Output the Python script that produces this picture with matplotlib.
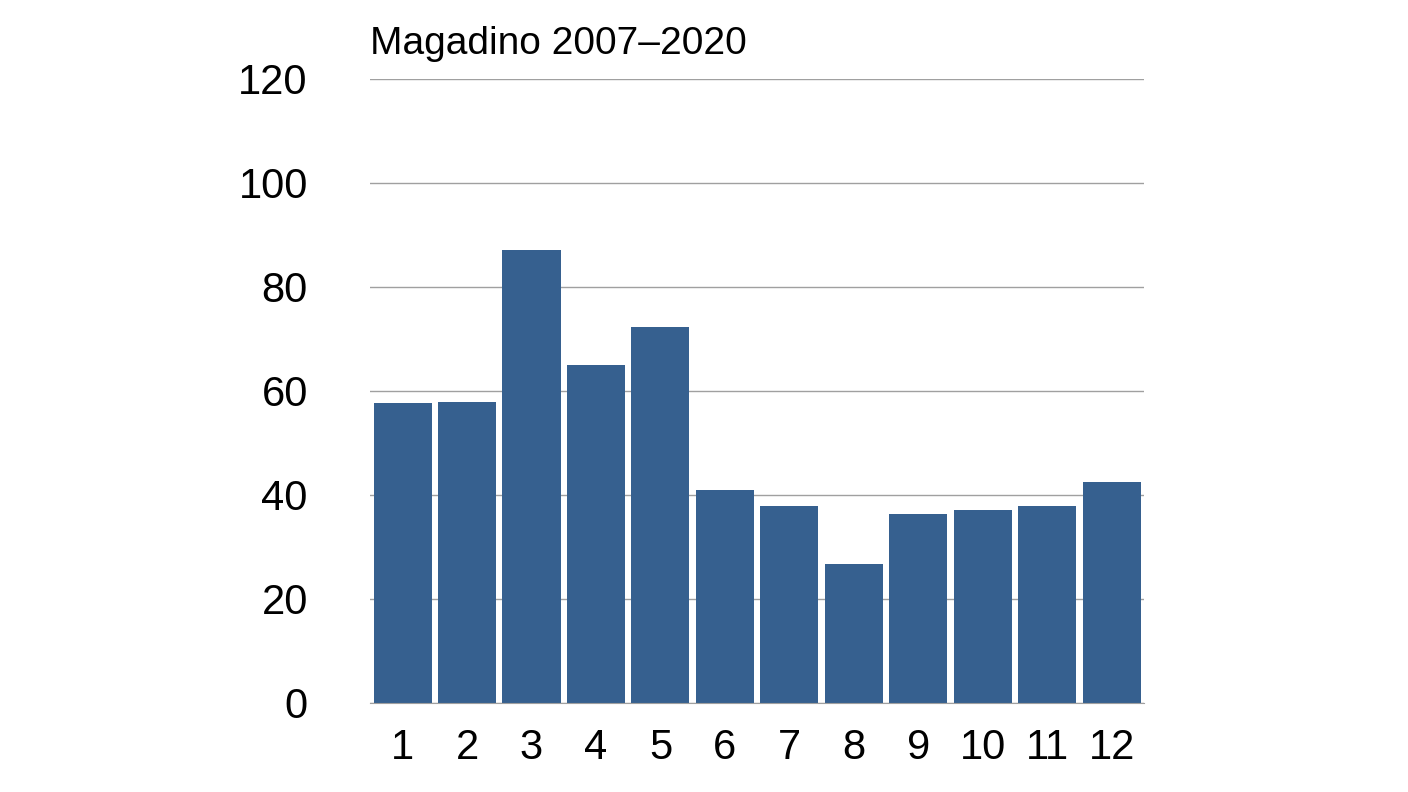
import matplotlib.pyplot as plt

months = list(range(1, 13))
values = [57.7, 57.9, 87.1, 65.0, 72.3, 41.0, 37.9, 26.7, 36.3, 37.1, 37.9, 42.5]
yticks = [0, 20, 40, 60, 80, 100, 120]

plt.rcParams['font.family'] = ['Liberation Sans', 'DejaVu Sans']

fig = plt.figure(figsize=(14.08, 7.92), dpi=100)
ax = fig.add_axes([0.263, 0.1124, 0.5495, 0.7879])
ax.bar(months, values, width=0.9, color='#36608f', zorder=2)

ax.set_xlim(0.5, 12.5)
ax.set_ylim(0, 120)
ax.set_yticks(yticks)
ax.set_xticks(months)
ax.tick_params(axis='both', length=0, labelsize=30)
ax.tick_params(axis='y', pad=45)
ax.tick_params(axis='x', pad=18)
ax.grid(axis='y', color='#a0a0a0', linewidth=1, zorder=0)
for side in ['left', 'right', 'top']:
    ax.spines[side].set_visible(False)
ax.spines['bottom'].set_color('#a0a0a0')

fig.text(0.263, 0.945, 'Magadino 2007–2020', fontsize=28, va='center', ha='left')

fig.savefig('out.png', dpi=100)
